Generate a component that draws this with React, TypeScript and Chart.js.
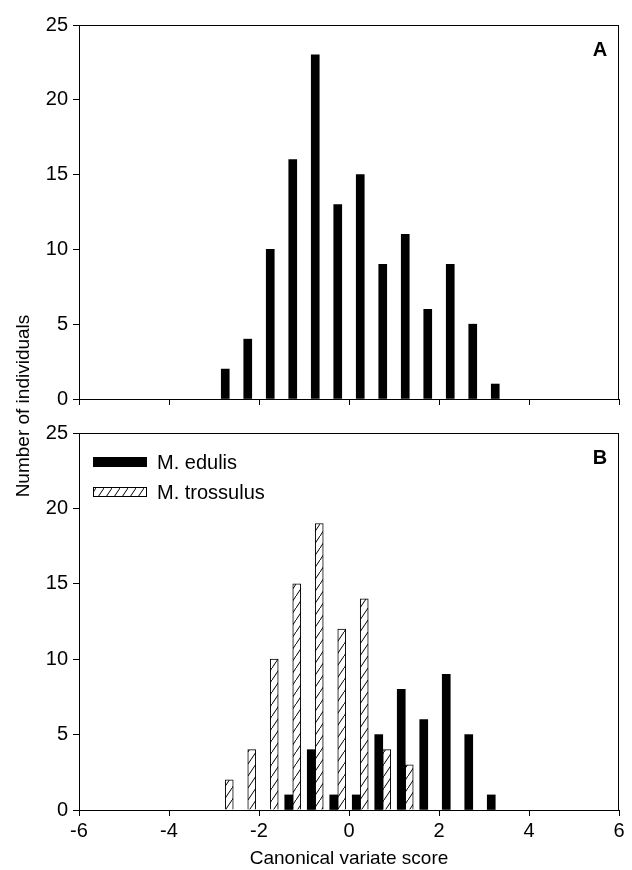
import React, { useEffect, useRef } from 'react';
import { Chart, registerables } from 'chart.js';

Chart.register(...registerables);

// ---- data ----
const binCenters = [-2.75, -2.25, -1.75, -1.25, -0.75, -0.25, 0.25, 0.75, 1.25, 1.75, 2.25, 2.75, 3.25];
const allCounts = [2, 4, 10, 16, 23, 13, 15, 9, 11, 6, 9, 5, 1];
const edulisCounts = [0, 0, 0, 1, 4, 1, 1, 5, 8, 6, 9, 5, 1];
const trossulusCounts = [2, 4, 10, 15, 19, 12, 14, 4, 3, 0, 0, 0, 0];
const xMin = -6;
const xMax = 6;
const xStep = 2;
const yMin = 0;
const yMax = 25;
const yStep = 5;
const seriesNames = ['M. edulis', 'M. trossulus'];
const panelLabels = ['A', 'B'];
const xTitle = 'Canonical variate score';
const yTitle = 'Number of individuals';

const FONT = "'Liberation Sans', Arial, Helvetica, sans-serif";

function makeHatch(): CanvasPattern | string {
  const c = document.createElement('canvas');
  c.width = 8;
  c.height = 12;
  const g = c.getContext('2d');
  if (!g) return '#fff';
  g.fillStyle = '#fff';
  g.fillRect(0, 0, 8, 12);
  g.strokeStyle = '#000';
  g.lineWidth = 1;
  g.beginPath();
  g.moveTo(0, 12);
  g.lineTo(8, 0);
  g.stroke();
  return g.createPattern(c, 'repeat') || '#fff';
}

const toPoints = (vals: number[]) =>
  binCenters.map((x, i) => ({ x, y: vals[i] === 0 ? null : vals[i] }));

const framePlugin = {
  id: 'frame',
  afterDraw(chart: any) {
    const { ctx, chartArea } = chart;
    const l = Math.round(chartArea.left) + 0.5;
    const t = Math.round(chartArea.top) + 0.5;
    const r = Math.round(chartArea.right) - 0.5;
    const b = Math.round(chartArea.bottom) + 0.5;
    ctx.save();
    ctx.strokeStyle = '#000';
    ctx.lineWidth = 1;
    ctx.strokeRect(l, t, r - l, b - t);
    ctx.restore();
  },
};

function makeDecoPlugin(label: string, legend: null | { fills: any[]; names: string[] }) {
  return {
    id: 'deco' + label,
    afterDraw(chart: any) {
      const { ctx, chartArea } = chart;
      ctx.save();
      ctx.fillStyle = '#000';
      ctx.font = `bold 20px ${FONT}`;
      ctx.textAlign = 'center';
      ctx.textBaseline = 'middle';
      ctx.fillText(label, chartArea.right - 19, chartArea.top + 25);
      if (legend) {
        ctx.font = `20px ${FONT}`;
        ctx.textAlign = 'left';
        legend.names.forEach((name, i) => {
          const bx = Math.round(chartArea.left) + 14;
          const by = Math.round(chartArea.top) + 24 + i * 30;
          ctx.fillStyle = legend.fills[i];
          ctx.fillRect(bx, by, 54, 10);
          if (i === 1) {
            ctx.strokeStyle = '#000';
            ctx.lineWidth = 1;
            ctx.strokeRect(bx + 0.5, by + 0.5, 53, 9);
          }
          ctx.fillStyle = '#000';
          ctx.fillText(name, bx + 64, by + 6);
        });
      }
      ctx.restore();
    },
  };
}

function buildOptions(xAxisHeight: number, showXLabels: boolean, padTop: number) {
  return {
    responsive: false,
    animation: false as const,
    events: [] as any[],
    layout: { padding: { left: 0, right: 13, top: padTop, bottom: 0 } },
    plugins: { legend: { display: false }, tooltip: { enabled: false } },
    scales: {
      x: {
        type: 'linear' as const,
        min: xMin,
        max: xMax,
        offset: false,
        grid: { offset: false, drawOnChartArea: false, drawTicks: true, tickLength: 6, color: '#000', lineWidth: 1 },
        border: { display: true, color: '#000', width: 1 },
        ticks: {
          stepSize: xStep,
          color: showXLabels ? '#000' : 'rgba(0,0,0,0)',
          font: { family: FONT, size: 20 },
          padding: 3,
          maxRotation: 0,
          autoSkip: false,
        },
        title: {
          display: showXLabels,
          text: xTitle,
          color: '#000',
          font: { family: FONT, size: 19 },
          padding: { top: 0, bottom: 0 },
        },
        afterFit: (s: any) => {
          s.height = xAxisHeight;
        },
      },
      y: {
        min: yMin,
        max: yMax,
        grid: { drawOnChartArea: false, drawTicks: true, tickLength: 6, color: '#000', lineWidth: 1 },
        border: { display: true, color: '#000', width: 1 },
        ticks: {
          stepSize: yStep,
          color: '#000',
          font: { family: FONT, size: 20 },
          padding: 5,
        },
        afterFit: (s: any) => {
          s.width = 79;
        },
      },
    },
  };
}

function PanelA() {
  const ref = useRef<HTMLCanvasElement>(null);
  useEffect(() => {
    if (!ref.current) return;
    const chart = new Chart(ref.current, {
      type: 'bar',
      data: {
        datasets: [
          {
            label: 'All',
            data: toPoints(allCounts) as any,
            backgroundColor: '#000',
            borderWidth: 0,
            barThickness: 8,
          },
        ],
      },
      options: buildOptions(17, false, 25) as any,
      plugins: [framePlugin, makeDecoPlugin(panelLabels[0], null)],
    });
    return () => chart.destroy();
  }, []);
  return <canvas ref={ref} width={632} height={416} style={{ display: 'block', width: 632, height: 416 }} />;
}

function PanelB() {
  const ref = useRef<HTMLCanvasElement>(null);
  useEffect(() => {
    if (!ref.current) return;
    const hatch = makeHatch();
    const chart = new Chart(ref.current, {
      type: 'bar',
      data: {
        datasets: [
          {
            label: seriesNames[0],
            data: toPoints(edulisCounts) as any,
            backgroundColor: '#000',
            borderWidth: 0,
            barThickness: 8,
          },
          {
            label: seriesNames[1],
            data: toPoints(trossulusCounts) as any,
            backgroundColor: hatch as any,
            borderColor: '#000',
            borderWidth: 1,
            barThickness: 8,
          },
        ],
      },
      options: buildOptions(60, true, 17) as any,
      plugins: [framePlugin, makeDecoPlugin(panelLabels[1], { fills: ['#000', hatch], names: seriesNames })],
    });
    return () => chart.destroy();
  }, []);
  return <canvas ref={ref} width={632} height={454} style={{ display: 'block', width: 632, height: 454 }} />;
}

export default function App() {
  return (
    <div style={{ position: 'absolute', left: 0, top: 0, width: 632, height: 870, background: '#fff', overflow: 'hidden' }}>
      <div style={{ position: 'absolute', left: 0, top: 0 }}>
        <PanelA />
      </div>
      <div style={{ position: 'absolute', left: 0, top: 416 }}>
        <PanelB />
      </div>
      <div
        style={{
          position: 'absolute',
          left: 23 - 150,
          top: 406 - 12,
          width: 300,
          height: 24,
          lineHeight: '24px',
          textAlign: 'center',
          fontFamily: FONT,
          fontSize: 19,
          color: '#000',
          transform: 'rotate(-90deg)',
          transformOrigin: '50% 50%',
          whiteSpace: 'nowrap',
        }}
      >
        {yTitle}
      </div>
    </div>
  );
}
